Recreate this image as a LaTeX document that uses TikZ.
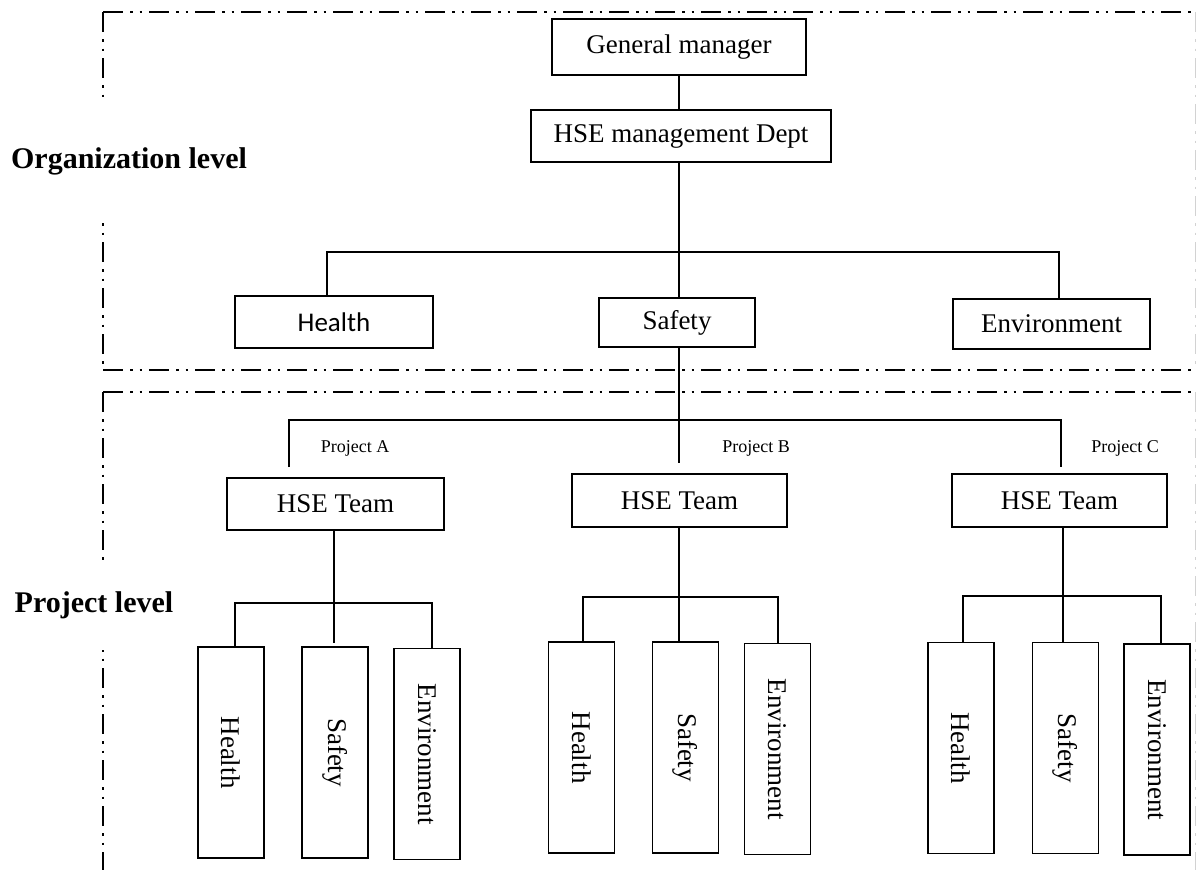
\documentclass[tikz,border=0pt]{standalone}
\usepackage{fontspec}
\setmainfont{Liberation Serif}
\newfontfamily\calibri{Carlito}
\begin{document}
\begin{tikzpicture}[x=1bp,y=-1bp,
  box/.style={draw, line width=1.3bp, inner sep=0pt, font=\fontsize{27bp}{30bp}\selectfont},
  vbox/.style={box, minimum width=66bp, minimum height=211bp},
  vtxt/.style={rotate=-90, font=\fontsize{27bp}{30bp}\selectfont, inner sep=0pt},
  conn/.style={line width=1.4bp},
  frm/.style={line width=2.5bp, dash pattern=on 20bp off 7bp on 2.5bp off 7bp on 2.5bp off 7bp},
  frmr/.style={line width=1bp, gray!35, dash pattern=on 20bp off 7bp on 2.5bp off 7bp on 2.5bp off 7bp},
  lvl/.style={fill=white, inner sep=0pt, font=\bfseries\fontsize{30bp}{33bp}\selectfont},
  plab/.style={inner sep=0pt, font=\fontsize{18bp}{20bp}\selectfont}]
\useasboundingbox (0,0) rectangle (1197,870);

% frames
\draw[frm] (103,12) -- (1196,12);
\draw[frm] (103,12) -- (103,370);
\draw[frm] (103,370) -- (1196,370);
\draw[frmr] (1195.5,12) -- (1195.5,370);
\draw[frm] (103,392) -- (1196,392);
\draw[frm] (103,392) -- (103,872);
\draw[frmr] (1195.5,392) -- (1195.5,872);

% level labels
\node[lvl, minimum height=120bp] (org) at (129,161) {Organization level};
\node[lvl, minimum height=90bp] (prj) at (94,605) {Project level};

% organization level
\node[box, minimum width=254bp, minimum height=56bp] (gm) at (679,47) {General manager};
\node[box, minimum width=300bp, minimum height=52bp] (dept) at (681,136) {HSE management Dept};
\node[box, minimum width=198bp, minimum height=52bp, font=\calibri\fontsize{27bp}{30bp}\selectfont] (oh) at (334,322) {Health};
\node[box, minimum width=156bp, minimum height=49bp] (os) at (677,322.5) {Safety};
\node[box, minimum width=197bp, minimum height=50bp] (oe) at (1051.5,324) {Environment};

\coordinate (j1) at (679,252);
\coordinate (j1l) at (327,252);
\coordinate (j1r) at (1059,252);
\draw[conn] (gm.south) -- (gm.south |- dept.north);
\draw[conn] (dept.south -| j1) -- (j1) -- (j1 |- os.north);
\draw[conn] (j1l |- oh.north) -- (j1l) -- (j1r) -- (j1r |- oe.north);

% project level
\node[plab] (pa) at (355,448) {Project A};
\node[plab] (pb) at (756,448) {Project B};
\node[plab] (pc) at (1125,448) {Project C};

\node[box, minimum width=217bp, minimum height=52bp] (ta) at (335.5,504) {HSE Team};
\node[box, minimum width=215bp, minimum height=53bp] (tb) at (679.5,500.5) {HSE Team};
\node[box, minimum width=215bp, minimum height=53bp] (tc) at (1059.5,500.5) {HSE Team};

\coordinate (j2) at (679,420);
\coordinate (j2l) at (289,420);
\coordinate (j2r) at (1061,420);
\coordinate (ea) at (289,467);
\coordinate (eb) at (679,463);
\coordinate (ec) at (1061,467);
\draw[conn] (os.south -| j2) -- (eb);
\draw[conn] (ea) -- (j2l) -- (j2r) -- (ec);

% team A
\node[vbox] (ah) at (231,752.5) {};
\node[vtxt] at (ah) {Health};
\node[vbox] (as) at (335,752.5) {};
\node[vtxt] at (as) {Safety};
\node[vbox] (ae) at (427,754) {};
\node[vtxt] at (ae) {Environment};
\coordinate (ka) at (334,603);
\draw[conn] (ta.south -| ka) -- (334,643);
\draw[conn] (235,647) -- (235,603) -- (432,603) -- (432,648);

% team B
\node[vbox] (bh) at (581.5,747.5) {};
\node[vtxt] at (bh) {Health};
\node[vbox] (bs) at (685.5,747.5) {};
\node[vtxt] at (bs) {Safety};
\node[vbox] (be) at (777.5,749) {};
\node[vtxt] at (be) {Environment};
\coordinate (kb) at (679,597);
\draw[conn] (tb.south -| kb) -- (679,642);
\draw[conn] (583,642) -- (583,597) -- (778,597) -- (778,643);

% team C
\node[vbox] (ch) at (961,748) {};
\node[vtxt] at (ch) {Health};
\node[vbox] (cs) at (1065.5,748) {};
\node[vtxt] at (cs) {Safety};
\node[vbox] (ce) at (1157,749.5) {};
\node[vtxt] at (ce) {Environment};
\coordinate (kc) at (1063,596);
\draw[conn] (tc.south -| kc) -- (1063,642);
\draw[conn] (963,642) -- (963,596) -- (1161,596) -- (1161,643);
\end{tikzpicture}
\end{document}
